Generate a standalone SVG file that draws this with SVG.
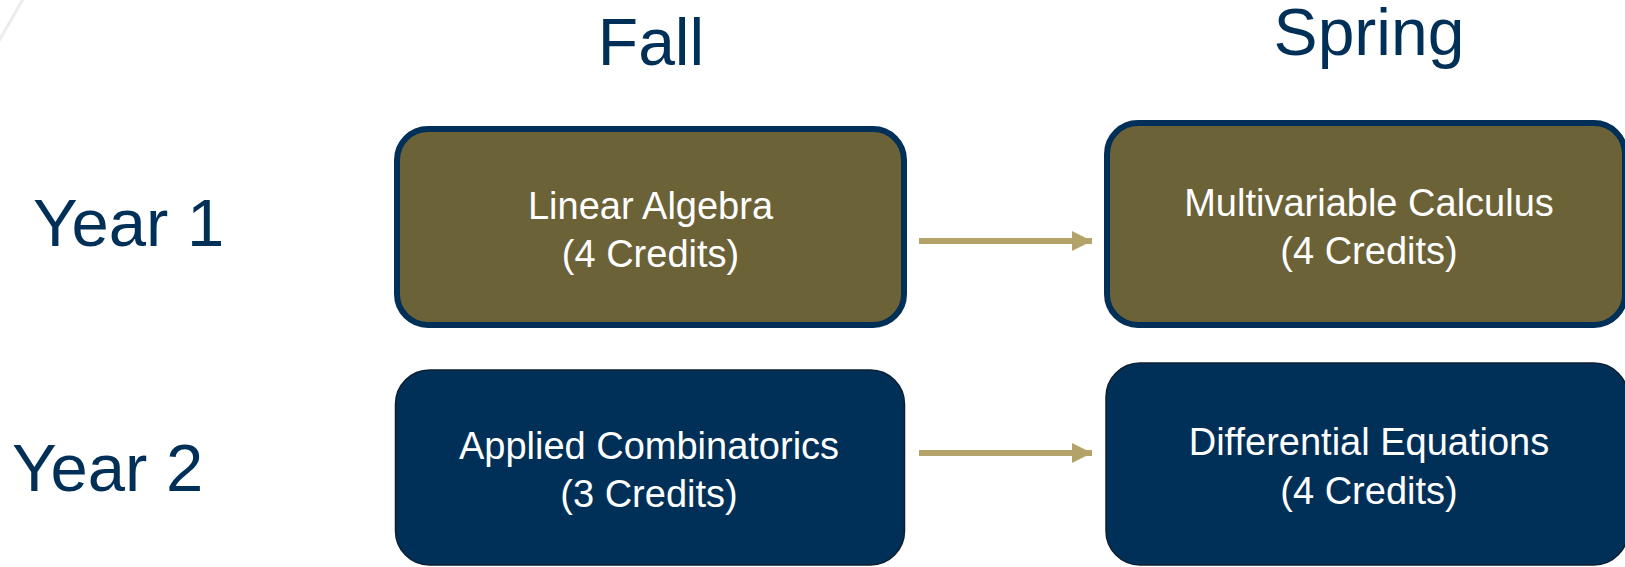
<svg xmlns="http://www.w3.org/2000/svg" width="1625" height="567" viewBox="0 0 1625 567">
  <style>
    .hdr { font-family: "Liberation Sans", Arial, sans-serif; fill: #003057; }
    .lbl { font-family: "Liberation Sans", Arial, sans-serif; font-size: 38px; fill: #ffffff; text-anchor: middle; }
    .gold { fill: #6c6238; stroke: #003057; stroke-width: 6; }
    .navy { fill: #003057; stroke: #0d1f30; stroke-width: 1.5; }
    .conn { stroke: #b3a369; stroke-width: 6; fill: none; }
  </style>
  <defs>
    <marker id="arrow" markerUnits="userSpaceOnUse" markerWidth="22" markerHeight="22" refX="20" refY="11" orient="auto">
      <path d="M0,1 L20,11 L0,21 Z" fill="#b3a369"/>
    </marker>
  </defs>
  <rect x="0" y="0" width="1625" height="567" fill="#ffffff"/>
  <line x1="23" y1="-1" x2="-1" y2="41" stroke="#ececec" stroke-width="3"/>

  <g id="header-fall"><text class="hdr" x="651" y="65" font-size="66" text-anchor="middle">Fall</text></g>
  <g id="header-spring"><text class="hdr" x="1369" y="55" font-size="66" text-anchor="middle">Spring</text></g>
  <g id="label-year1"><text class="hdr" x="33" y="246" font-size="67">Year 1</text></g>
  <g id="label-year2"><text class="hdr" x="12" y="491" font-size="67">Year 2</text></g>

  <g id="node-linear-algebra">
    <rect class="gold" x="397" y="129" width="507" height="196" rx="31" ry="31"/>
    <text class="lbl" x="650.5" y="219">Linear Algebra</text>
    <text class="lbl" x="650.5" y="267">(4 Credits)</text>
  </g>
  <g id="node-multivariable-calculus">
    <rect class="gold" x="1107" y="123" width="518" height="202" rx="31" ry="31"/>
    <text class="lbl" x="1369" y="216">Multivariable Calculus</text>
    <text class="lbl" x="1369" y="264">(4 Credits)</text>
  </g>
  <g id="node-applied-combinatorics">
    <rect class="navy" x="395.5" y="370" width="509" height="195" rx="34" ry="34"/>
    <text class="lbl" x="649" y="459">Applied Combinatorics</text>
    <text class="lbl" x="649" y="507">(3 Credits)</text>
  </g>
  <g id="node-differential-equations">
    <rect class="navy" x="1106" y="363" width="522" height="202" rx="34" ry="34"/>
    <text class="lbl" x="1369" y="455">Differential Equations</text>
    <text class="lbl" x="1369" y="504">(4 Credits)</text>
  </g>

  <g id="connectors">
    <line class="conn" x1="919" y1="241" x2="1092" y2="241" marker-end="url(#arrow)"/>
    <line class="conn" x1="919" y1="453" x2="1092" y2="453" marker-end="url(#arrow)"/>
  </g>
</svg>
